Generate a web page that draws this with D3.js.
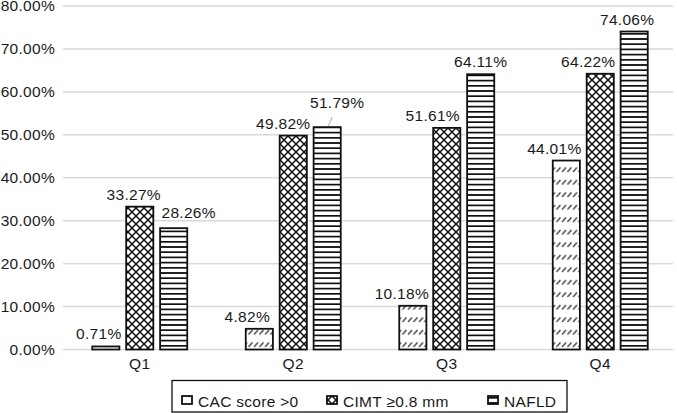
<!DOCTYPE html>
<html>
<head>
<meta charset="utf-8">
<script src="https://cdn.jsdelivr.net/npm/d3@7"></script>
<style>
  html, body { margin: 0; padding: 0; background: #fff; }
  svg { display: block; }
  text { font-family: "Liberation Sans", Arial, sans-serif; fill: #1a1a1a; }
</style>
</head>
<body>
<svg id="chart" width="677" height="413"></svg>
<script>
// ---- data ----
const categories = ["Q1", "Q2", "Q3", "Q4"];
const seriesNames = ["CAC score >0", "CIMT \u22650.8 mm", "NAFLD"];
const cacValues = [0.0071, 0.0482, 0.1018, 0.4401];
const cimtValues = [0.3327, 0.4982, 0.5161, 0.6422];
const naflValues = [0.2826, 0.5179, 0.6411, 0.7406];
const yTicks = [0, 0.1, 0.2, 0.3, 0.4, 0.5, 0.6, 0.7, 0.8];
// label nudges [dx, dy] per series per category (layout only)
const cacNudge = [[-7, 0], [-12, 0], [-11, 0], [-12, 0]];
const cimtNudge = [[-6, 0], [-10, 0], [-14, 0], [-12, 0]];
const naflNudge = [[15, -3], [10, -12], [0, 0], [-7, 0]];

const seriesValues = [cacValues, cimtValues, naflValues];
const seriesNudges = [cacNudge, cimtNudge, naflNudge];
const patternIds = ["pCAC", "pCIMT", "pNAFLD"];

const svg = d3.select("#chart");
const mLeft = 63, mRight = 677, mTop = 6, mBottom = 349.5;

const defs = svg.append("defs");
// CAC: rows of short slanted dashes
const p1 = defs.append("pattern").attr("id", "pCAC").attr("patternUnits", "userSpaceOnUse")
  .attr("width", 5.5).attr("height", 12.5);
p1.append("rect").attr("width", 5.5).attr("height", 12.5).attr("fill", "#fff");
p1.append("line").attr("x1", 1).attr("y1", 9.5).attr("x2", 5).attr("y2", 5)
  .attr("stroke", "#333").attr("stroke-width", 1.4);
// CIMT: diagonal crosshatch
const cp = 8;
const p2 = defs.append("pattern").attr("id", "pCIMT").attr("patternUnits", "userSpaceOnUse")
  .attr("width", cp).attr("height", cp);
p2.append("rect").attr("width", cp).attr("height", cp).attr("fill", "#fff");
p2.append("path").attr("d", `M-1,-1L${cp + 1},${cp + 1}M${cp + 1},-1L-1,${cp + 1}`)
  .attr("stroke", "#111").attr("stroke-width", 1.5);
// NAFLD: horizontal lines
const p3 = defs.append("pattern").attr("id", "pNAFLD").attr("patternUnits", "userSpaceOnUse")
  .attr("width", 10).attr("height", 5.2);
p3.append("rect").attr("width", 10).attr("height", 5.2).attr("fill", "#fff");
p3.append("line").attr("x1", 0).attr("x2", 10).attr("y1", 2.6).attr("y2", 2.6)
  .attr("stroke", "#111").attr("stroke-width", 1.7);

const y = d3.scaleLinear().domain([0, 0.8]).range([mBottom, mTop]);
const x0 = d3.scaleBand().domain(categories).range([mLeft, mRight]).padding(0);
const groupW = 95;
const x1 = d3.scaleBand().domain(d3.range(3))
  .range([x0.bandwidth() / 2 - groupW / 2, x0.bandwidth() / 2 + groupW / 2])
  .paddingInner(0.2).paddingOuter(0);

const fmt = d3.format(".2%");
const fontSize = 15.5, ls = 0.3;

// gridlines
svg.append("g").selectAll("line").data(yTicks).join("line")
  .attr("x1", mLeft).attr("x2", 673)
  .attr("y1", d => y(d)).attr("y2", d => y(d))
  .attr("stroke", "#d9d9d9").attr("stroke-width", 1.5);

// y axis labels
const yAxis = d3.axisLeft(y).tickValues(yTicks).tickFormat(fmt).tickSize(0).tickPadding(0);
const gy = svg.append("g").attr("transform", `translate(55,0)`).call(yAxis);
gy.select(".domain").remove();
gy.selectAll("text").attr("font-size", fontSize).attr("letter-spacing", ls)
  .attr("font-family", "Liberation Sans, Arial, sans-serif").attr("fill", "#1a1a1a");

// x axis labels
const xAxis = d3.axisBottom(x0).tickSize(0).tickPadding(0);
const gx = svg.append("g").attr("transform", `translate(0,${mBottom + 8})`).call(xAxis);
gx.select(".domain").remove();
gx.selectAll("text").attr("font-size", fontSize).attr("letter-spacing", ls)
  .attr("font-family", "Liberation Sans, Arial, sans-serif").attr("fill", "#1a1a1a");

// bars
const barData = [];
seriesValues.forEach((vals, s) => vals.forEach((v, i) => barData.push({ s, i, v, nudge: seriesNudges[s][i] })));

svg.append("g").selectAll("rect").data(barData).join("rect")
  .attr("x", d => x0(categories[d.i]) + x1(d.s))
  .attr("y", d => y(d.v))
  .attr("width", x1.bandwidth())
  .attr("height", d => y(0) - y(d.v))
  .attr("fill", d => `url(#${patternIds[d.s]})`)
  .attr("stroke", "#111").attr("stroke-width", 1.8);

// leader line for the moved NAFLD Q2 label
const lead = barData.find(d => d.s === 2 && d.i === 1);
const lx = x0(categories[lead.i]) + x1(lead.s) + x1.bandwidth() / 2;
svg.append("line")
  .attr("x1", lx + 1).attr("y1", y(lead.v) - 1)
  .attr("x2", lx + 5).attr("y2", y(lead.v) - 10)
  .attr("stroke", "#aaa").attr("stroke-width", 1);

// value labels
svg.append("g").selectAll("text").data(barData).join("text")
  .attr("x", d => x0(categories[d.i]) + x1(d.s) + x1.bandwidth() / 2 + d.nudge[0])
  .attr("y", d => y(d.v) - 7 + d.nudge[1])
  .attr("text-anchor", "middle")
  .attr("font-size", fontSize).attr("letter-spacing", ls)
  .text(d => fmt(d.v));

// legend
const lg = svg.append("g");
lg.append("rect").attr("x", 172).attr("y", 380.5).attr("width", 395).attr("height", 31.5)
  .attr("fill", "#fff").attr("stroke", "#111").attr("stroke-width", 1.3);
const legendX = [182, 327, 488];
seriesNames.forEach((name, s) => {
  lg.append("rect").attr("x", legendX[s]).attr("y", 396).attr("width", 10).attr("height", 8)
    .attr("fill", `url(#${patternIds[s]})`).attr("stroke", "#111").attr("stroke-width", 1.8);
  lg.append("text").attr("x", legendX[s] + 16).attr("y", 406.5)
    .attr("font-size", fontSize).attr("letter-spacing", ls).text(name);
});
</script>
</body>
</html>
